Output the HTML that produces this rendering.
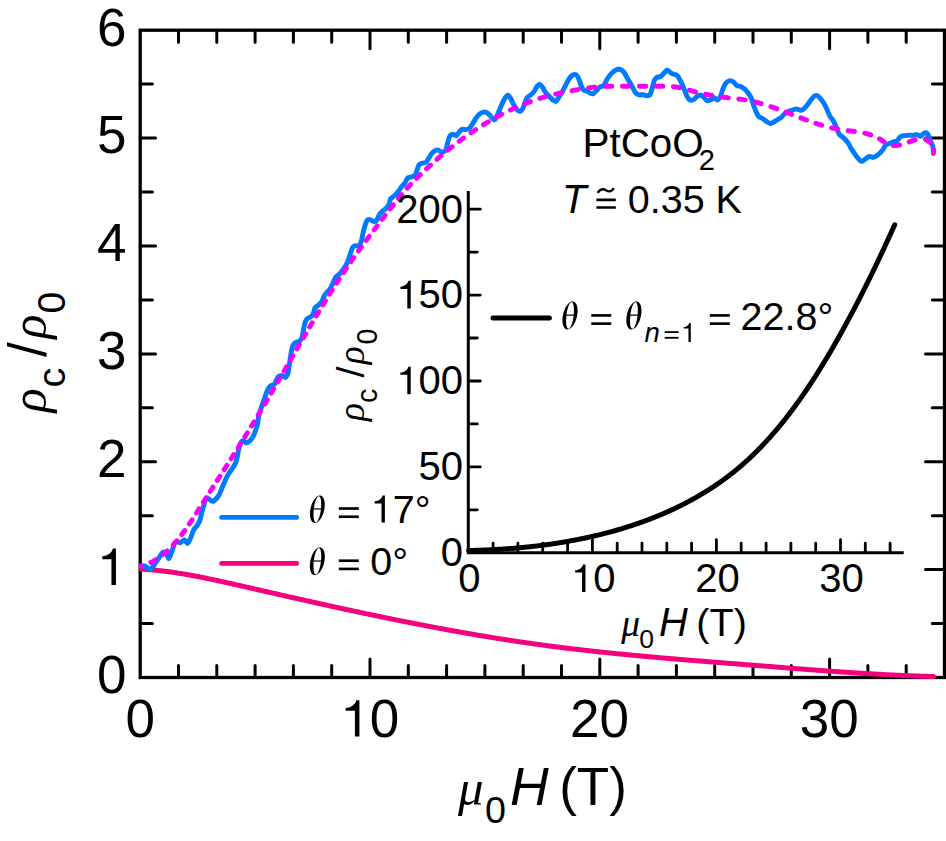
<!DOCTYPE html><html><head><meta charset="utf-8"><style>html,body{margin:0;padding:0;background:#fff;width:946px;height:841px;overflow:hidden}svg{display:block}text{font-family:"Liberation Sans",sans-serif;fill:#000}.s{font-family:"Liberation Serif",serif;font-style:italic}.i{font-style:italic}</style></head><body>
<svg width="946" height="841" viewBox="0 0 946 841">
<rect x="140.2" y="30.2" width="804.3" height="647.3" fill="none" stroke="#000" stroke-width="3.3"/>
<path d="M178.5,677.5v-12.0M178.5,30.2v12.0M216.8,677.5v-12.0M216.8,30.2v12.0M255.1,677.5v-12.0M255.1,30.2v12.0M293.4,677.5v-12.0M293.4,30.2v12.0M331.7,677.5v-12.0M331.7,30.2v12.0M370.0,677.5v-18.6M370.0,30.2v18.6M408.3,677.5v-12.0M408.3,30.2v12.0M446.6,677.5v-12.0M446.6,30.2v12.0M484.9,677.5v-12.0M484.9,30.2v12.0M523.2,677.5v-12.0M523.2,30.2v12.0M561.5,677.5v-12.0M561.5,30.2v12.0M599.8,677.5v-18.6M599.8,30.2v18.6M638.1,677.5v-12.0M638.1,30.2v12.0M676.4,677.5v-12.0M676.4,30.2v12.0M714.7,677.5v-12.0M714.7,30.2v12.0M753.0,677.5v-12.0M753.0,30.2v12.0M791.3,677.5v-12.0M791.3,30.2v12.0M829.6,677.5v-18.6M829.6,30.2v18.6M867.9,677.5v-12.0M867.9,30.2v12.0M906.2,677.5v-12.0M906.2,30.2v12.0M140.2,623.6h12.2M944.5,623.6h-12.2M140.2,569.6h15.4M944.5,569.6h-19.0M140.2,515.7h12.2M944.5,515.7h-12.2M140.2,461.7h15.4M944.5,461.7h-19.0M140.2,407.8h12.2M944.5,407.8h-12.2M140.2,353.9h15.4M944.5,353.9h-19.0M140.2,299.9h12.2M944.5,299.9h-12.2M140.2,246.0h15.4M944.5,246.0h-19.0M140.2,192.0h12.2M944.5,192.0h-12.2M140.2,138.1h15.4M944.5,138.1h-19.0M140.2,84.1h12.2M944.5,84.1h-12.2" stroke="#000" stroke-width="3.0" stroke-linecap="round" fill="none"/>
<path d="M141.14,569.15 142.11,569.20 143.08,569.26 144.06,569.31 145.03,569.37 146.00,569.44 146.98,569.50 147.95,569.57 148.92,569.64 149.90,569.72 150.87,569.80 151.84,569.88 152.82,569.96 153.79,570.05 154.77,570.14 155.74,570.23 156.71,570.33 157.69,570.43 158.66,570.53 159.63,570.63 160.61,570.74 161.58,570.85 162.55,570.96 163.53,571.08 164.50,571.19 165.48,571.31 166.45,571.44 167.42,571.56 168.40,571.69 169.37,571.82 170.35,571.95 171.32,572.09 172.29,572.23 173.27,572.37 174.24,572.51 175.22,572.65 176.19,572.80 177.17,572.95 178.14,573.10 179.11,573.25 180.09,573.41 181.06,573.56 182.04,573.72 183.01,573.88 183.99,574.05 184.96,574.21 185.94,574.38 186.91,574.55 187.89,574.72 188.86,574.89 189.83,575.06 190.81,575.24 191.78,575.42 192.76,575.60 193.73,575.78 194.71,575.96 195.68,576.15 196.66,576.33 197.63,576.52 198.61,576.71 199.58,576.90 200.56,577.09 201.53,577.28 202.51,577.48 203.48,577.67 204.46,577.87 205.44,578.07 206.41,578.27 207.39,578.47 208.36,578.67 209.34,578.87 210.31,579.08 211.29,579.28 212.26,579.49 213.24,579.69 214.21,579.90 215.19,580.11 216.17,580.32 217.14,580.53 218.12,580.74 219.09,580.95 220.07,581.17 221.04,581.38 222.02,581.60 223.00,581.81 223.97,582.03 224.95,582.24 225.92,582.46 226.90,582.68 227.88,582.90 228.85,583.12 229.83,583.33 230.80,583.55 231.78,583.77 232.76,583.99 233.73,584.22 234.71,584.44 235.69,584.66 236.66,584.88 237.64,585.10 238.62,585.32 239.59,585.54 240.57,585.77 241.55,585.99 242.52,586.21 243.50,586.43 244.47,586.65 245.45,586.88 246.43,587.10 247.41,587.32 248.38,587.54 249.36,587.76 250.34,587.99 251.31,588.21 252.29,588.43 253.27,588.65 254.24,588.88 255.22,589.10 256.20,589.32 257.17,589.54 258.15,589.77 259.13,589.99 260.11,590.21 261.08,590.43 262.06,590.65 263.04,590.88 264.02,591.10 264.99,591.32 265.97,591.54 266.95,591.77 267.93,591.99 268.90,592.21 269.88,592.43 270.86,592.65 271.84,592.88 272.81,593.10 273.79,593.32 274.77,593.54 275.75,593.76 276.73,593.99 277.70,594.21 278.68,594.43 279.66,594.65 280.64,594.87 281.61,595.10 282.59,595.32 283.57,595.54 284.55,595.76 285.53,595.98 286.51,596.20 287.48,596.42 288.46,596.64 289.44,596.87 290.42,597.09 291.40,597.31 292.38,597.53 293.35,597.75 294.33,597.97 295.31,598.19 296.29,598.41 297.27,598.63 298.25,598.85 299.23,599.07 300.20,599.29 301.18,599.51 302.16,599.73 303.14,599.95 304.12,600.17 305.10,600.39 306.08,600.61 307.06,600.83 308.04,601.05 309.01,601.26 309.99,601.48 310.97,601.70 311.95,601.92 312.93,602.14 313.91,602.36 314.89,602.57 315.87,602.79 316.85,603.01 317.83,603.23 318.81,603.45 319.79,603.66 320.77,603.88 321.75,604.10 322.73,604.31 323.71,604.53 324.69,604.75 325.66,604.96 326.64,605.18 327.62,605.39 328.60,605.61 329.58,605.83 330.56,606.04 331.54,606.26 332.52,606.47 333.50,606.69 334.48,606.90 335.46,607.11 336.44,607.33 337.42,607.54 338.40,607.76 339.38,607.97 340.37,608.18 341.35,608.40 342.33,608.61 343.31,608.82 344.29,609.03 345.27,609.25 346.25,609.46 347.23,609.67 348.21,609.88 349.19,610.09 350.17,610.30 351.15,610.51 352.13,610.72 353.11,610.93 354.09,611.15 355.07,611.36 356.05,611.56 357.04,611.77 358.02,611.98 359.00,612.19 359.98,612.40 360.96,612.61 361.94,612.82 362.92,613.03 363.90,613.23 364.88,613.44 365.87,613.65 366.85,613.85 367.83,614.06 368.81,614.27 369.79,614.47 370.77,614.68 371.75,614.89 372.74,615.09 373.72,615.30 374.70,615.50 375.68,615.71 376.66,615.91 377.64,616.11 378.63,616.32 379.61,616.52 380.59,616.72 381.57,616.93 382.55,617.13 383.54,617.33 384.52,617.53 385.50,617.74 386.48,617.94 387.46,618.14 388.45,618.34 389.43,618.54 390.41,618.74 391.39,618.94 392.38,619.14 393.36,619.34 394.34,619.54 395.32,619.74 396.31,619.94 397.29,620.13 398.27,620.33 399.25,620.53 400.24,620.73 401.22,620.92 402.20,621.12 403.18,621.32 404.17,621.51 405.15,621.71 406.13,621.90 407.12,622.10 408.10,622.29 409.08,622.49 410.07,622.68 411.05,622.88 412.03,623.07 413.01,623.26 414.00,623.45 414.98,623.65 415.96,623.84 416.95,624.03 417.93,624.22 418.91,624.41 419.90,624.60 420.88,624.79 421.87,624.98 422.85,625.17 423.83,625.36 424.82,625.55 425.80,625.74 426.78,625.93 427.77,626.12 428.75,626.30 429.74,626.49 430.72,626.68 431.70,626.86 432.69,627.05 433.67,627.23 434.66,627.42 435.64,627.60 436.62,627.79 437.61,627.97 438.59,628.16 439.58,628.34 440.56,628.52 441.55,628.71 442.53,628.89 443.51,629.07 444.50,629.25 445.48,629.43 446.47,629.61 447.45,629.79 448.44,629.97 449.42,630.15 450.41,630.33 451.39,630.51 452.38,630.69 453.36,630.86 454.35,631.04 455.33,631.22 456.32,631.40 457.30,631.57 458.29,631.75 459.27,631.92 460.26,632.10 461.24,632.27 462.23,632.45 463.21,632.62 464.20,632.79 465.18,632.97 466.17,633.14 467.16,633.31 468.14,633.48 469.13,633.65 470.11,633.82 471.10,633.99 472.08,634.16 473.07,634.33 474.05,634.50 475.04,634.67 476.03,634.84 477.01,635.00 478.00,635.17 478.98,635.34 479.97,635.50 480.96,635.67 481.94,635.84 482.93,636.00 483.92,636.16 484.90,636.33 485.89,636.49 486.87,636.66 487.86,636.82 488.85,636.98 489.83,637.14 490.82,637.30 491.81,637.46 492.79,637.62 493.78,637.78 494.77,637.94 495.75,638.10 496.74,638.26 497.73,638.42 498.71,638.57 499.70,638.73 500.69,638.89 501.67,639.04 502.66,639.20 503.65,639.35 504.64,639.51 505.62,639.66 506.61,639.81 507.60,639.97 508.58,640.12 509.57,640.27 510.56,640.42 511.55,640.57 512.53,640.72 513.52,640.87 514.51,641.02 515.50,641.17 516.48,641.32 517.47,641.47 518.46,641.62 519.45,641.76 520.44,641.91 521.42,642.05 522.41,642.20 523.40,642.34 524.39,642.49 525.38,642.63 526.36,642.77 527.35,642.92 528.34,643.06 529.33,643.20 530.32,643.34 531.30,643.48 532.29,643.62 533.28,643.76 534.27,643.90 535.26,644.04 536.25,644.17 537.24,644.31 538.22,644.45 539.21,644.58 540.20,644.72 541.19,644.85 542.18,644.99 543.17,645.12 544.16,645.26 545.15,645.39 546.14,645.52 547.12,645.65 548.11,645.78 549.10,645.91 550.09,646.04 551.08,646.17 552.07,646.30 553.06,646.43 554.05,646.56 555.04,646.68 556.03,646.81 557.02,646.94 558.01,647.06 559.00,647.19 559.99,647.31 560.98,647.44 561.97,647.56 562.95,647.68 563.94,647.80 564.93,647.93 565.92,648.05 566.91,648.17 567.90,648.29 568.89,648.41 569.88,648.53 570.87,648.65 571.86,648.77 572.85,648.88 573.84,649.00 574.84,649.12 575.83,649.23 576.82,649.35 577.81,649.47 578.80,649.58 579.79,649.70 580.78,649.81 581.77,649.92 582.76,650.04 583.75,650.15 584.74,650.26 585.73,650.37 586.72,650.48 587.71,650.60 588.70,650.71 589.69,650.82 590.69,650.93 591.68,651.04 592.67,651.14 593.66,651.25 594.65,651.36 595.64,651.47 596.63,651.58 597.62,651.68 598.61,651.79 599.61,651.89 600.60,652.00 601.59,652.11 602.58,652.21 603.57,652.31 604.56,652.42 605.55,652.52 606.55,652.63 607.54,652.73 608.53,652.83 609.52,652.93 610.51,653.03 611.50,653.14 612.50,653.24 613.49,653.34 614.48,653.44 615.47,653.54 616.46,653.64 617.46,653.74 618.45,653.83 619.44,653.93 620.43,654.03 621.43,654.13 622.42,654.23 623.41,654.32 624.40,654.42 625.39,654.52 626.39,654.61 627.38,654.71 628.37,654.80 629.36,654.90 630.36,654.99 631.35,655.09 632.34,655.18 633.34,655.28 634.33,655.37 635.32,655.46 636.31,655.56 637.31,655.65 638.30,655.74 639.29,655.83 640.29,655.93 641.28,656.02 642.27,656.11 643.26,656.20 644.26,656.29 645.25,656.38 646.24,656.47 647.24,656.56 648.23,656.65 649.22,656.74 650.22,656.83 651.21,656.92 652.20,657.01 653.20,657.09 654.19,657.18 655.19,657.27 656.18,657.36 657.17,657.45 658.17,657.53 659.16,657.62 660.15,657.71 661.15,657.79 662.14,657.88 663.13,657.97 664.13,658.05 665.12,658.14 666.12,658.22 667.11,658.31 668.10,658.39 669.10,658.48 670.09,658.56 671.09,658.65 672.08,658.73 673.08,658.81 674.07,658.90 675.06,658.98 676.06,659.07 677.05,659.15 678.05,659.23 679.04,659.32 680.04,659.40 681.03,659.48 682.03,659.56 683.02,659.65 684.02,659.73 685.01,659.81 686.00,659.89 687.00,659.97 687.99,660.06 688.99,660.14 689.98,660.22 690.98,660.30 691.97,660.38 692.97,660.46 693.96,660.54 694.96,660.62 695.95,660.70 696.95,660.78 697.94,660.86 698.94,660.94 699.93,661.02 700.93,661.10 701.93,661.18 702.92,661.26 703.92,661.34 704.91,661.42 705.91,661.50 706.90,661.58 707.90,661.66 708.89,661.74 709.89,661.82 710.88,661.90 711.88,661.98 712.88,662.06 713.87,662.13 714.87,662.21 715.86,662.29 716.86,662.37 717.85,662.45 718.85,662.53 719.85,662.61 720.84,662.69 721.84,662.76 722.83,662.84 723.83,662.92 724.83,663.00 725.82,663.08 726.82,663.15 727.82,663.23 728.81,663.31 729.81,663.39 730.80,663.47 731.80,663.55 732.80,663.62 733.79,663.70 734.79,663.78 735.79,663.86 736.78,663.94 737.78,664.01 738.78,664.09 739.77,664.17 740.77,664.25 741.77,664.33 742.76,664.40 743.76,664.48 744.76,664.56 745.75,664.64 746.75,664.72 747.75,664.80 748.74,664.87 749.74,664.95 750.74,665.03 751.73,665.11 752.73,665.19 753.73,665.27 754.73,665.34 755.72,665.42 756.72,665.50 757.72,665.58 758.72,665.66 759.71,665.74 760.71,665.82 761.71,665.90 762.70,665.97 763.70,666.05 764.70,666.13 765.70,666.21 766.69,666.29 767.69,666.37 768.69,666.45 769.69,666.53 770.68,666.61 771.68,666.69 772.68,666.76 773.68,666.84 774.68,666.92 775.67,667.00 776.67,667.08 777.67,667.16 778.67,667.24 779.66,667.32 780.66,667.39 781.66,667.47 782.66,667.55 783.66,667.63 784.65,667.71 785.65,667.79 786.65,667.87 787.65,667.94 788.65,668.02 789.65,668.10 790.64,668.18 791.64,668.26 792.64,668.33 793.64,668.41 794.64,668.49 795.64,668.57 796.63,668.65 797.63,668.72 798.63,668.80 799.63,668.88 800.63,668.95 801.63,669.03 802.63,669.11 803.62,669.19 804.62,669.26 805.62,669.34 806.62,669.41 807.62,669.49 808.62,669.57 809.62,669.64 810.62,669.72 811.61,669.79 812.61,669.87 813.61,669.94 814.61,670.02 815.61,670.09 816.61,670.17 817.61,670.24 818.61,670.32 819.61,670.39 820.61,670.46 821.60,670.54 822.60,670.61 823.60,670.68 824.60,670.76 825.60,670.83 826.60,670.90 827.60,670.97 828.60,671.05 829.60,671.12 830.60,671.19 831.60,671.26 832.60,671.33 833.60,671.40 834.60,671.47 835.60,671.54 836.60,671.61 837.59,671.68 838.59,671.75 839.59,671.82 840.59,671.89 841.59,671.96 842.59,672.03 843.59,672.10 844.59,672.16 845.59,672.23 846.59,672.30 847.59,672.37 848.59,672.43 849.59,672.50 850.59,672.56 851.59,672.63 852.59,672.69 853.59,672.76 854.59,672.82 855.59,672.89 856.59,672.95 857.59,673.02 858.59,673.08 859.59,673.14 860.59,673.20 861.59,673.27 862.59,673.33 863.59,673.39 864.59,673.45 865.60,673.51 866.60,673.57 867.60,673.63 868.60,673.69 869.60,673.75 870.60,673.81 871.60,673.87 872.60,673.92 873.60,673.98 874.60,674.04 875.60,674.10 876.60,674.15 877.60,674.21 878.60,674.26 879.60,674.32 880.60,674.37 881.60,674.43 882.61,674.48 883.61,674.53 884.61,674.59 885.61,674.64 886.61,674.69 887.61,674.74 888.61,674.79 889.61,674.84 890.61,674.89 891.61,674.94 892.61,674.99 893.62,675.04 894.62,675.09 895.62,675.13 896.62,675.18 897.62,675.23 898.62,675.27 899.62,675.32 900.62,675.36 901.63,675.41 902.63,675.45 903.63,675.49 904.63,675.54 905.63,675.58 906.63,675.62 907.63,675.66 908.63,675.70 909.64,675.74 910.64,675.78 911.64,675.82 912.64,675.86 913.64,675.90 914.64,675.93 915.65,675.97 916.65,676.00 917.65,676.04 918.65,676.07 919.65,676.11 920.65,676.14 921.66,676.18 922.66,676.21 923.66,676.24 924.66,676.27 925.66,676.30 926.66,676.33 927.67,676.36 928.67,676.39 929.67,676.42 930.67,676.44 931.67,676.47 932.68,676.50 933.68,676.52" fill="none" stroke="#F6007E" stroke-width="5.00" stroke-linejoin="round" stroke-linecap="round"/>
<path d="M141.0,565.7 C141.6,565.8 144.0,565.9 145.3,566.4 C146.6,566.9 149.2,569.2 150.3,569.2 C151.4,569.2 152.1,567.7 153.1,566.4 C154.1,565.1 156.0,562.0 157.4,560.0 C158.8,558.0 161.8,552.9 163.1,552.1 C164.4,551.3 165.9,553.3 166.7,554.2 C167.5,555.1 168.1,558.8 168.8,558.5 C169.5,558.2 170.9,554.2 171.7,552.1 C172.5,550.0 173.7,545.0 174.5,543.5 C175.3,542.0 176.6,541.5 177.4,541.4 C178.2,541.3 179.2,543.0 180.2,542.8 C181.2,542.6 183.5,539.9 184.5,540.0 C185.5,540.1 186.6,543.6 187.4,543.5 C188.2,543.4 189.3,540.9 190.2,539.0 C191.1,537.1 192.6,531.9 193.6,530.0 C194.6,528.1 196.2,527.0 197.1,525.6 C198.0,524.2 199.3,521.9 200.0,519.9 C200.7,517.9 201.5,513.7 202.1,511.4 C202.7,509.1 203.7,505.4 204.3,503.5 C204.9,501.6 205.7,498.4 206.4,497.8 C207.1,497.2 208.4,498.7 209.3,499.2 C210.2,499.7 211.8,501.5 212.8,501.4 C213.8,501.3 215.5,499.5 216.4,498.5 C217.3,497.5 218.6,495.6 219.3,494.3 C220.0,493.0 220.7,490.9 221.4,489.3 C222.1,487.7 223.5,484.4 224.2,482.8 C224.9,481.2 225.7,479.2 226.4,477.8 C227.1,476.4 228.4,474.2 229.3,472.8 C230.2,471.4 231.9,469.2 232.8,467.8 C233.7,466.4 235.0,464.5 235.7,462.8 C236.4,461.1 237.1,457.7 237.5,455.7 C237.9,453.7 238.4,450.4 238.9,448.5 C239.4,446.6 240.5,443.2 241.1,442.1 C241.7,441.0 242.8,440.6 243.5,440.7 C244.2,440.8 245.5,442.8 246.4,442.8 C247.3,442.8 249.0,441.7 250.0,440.7 C251.0,439.7 252.7,437.3 253.5,435.7 C254.3,434.1 255.4,431.1 256.0,429.3 C256.6,427.5 257.4,424.7 257.8,422.9 C258.2,421.1 258.2,418.3 258.6,416.4 C259.0,414.5 260.1,411.2 260.7,409.2 C261.3,407.2 262.5,404.1 263.2,402.1 C263.9,400.1 265.1,396.8 265.7,395.0 C266.3,393.2 267.1,390.6 267.8,389.3 C268.5,388.0 269.8,386.4 270.7,385.7 C271.6,385.0 273.5,385.1 274.3,384.3 C275.1,383.5 275.8,381.1 276.4,380.0 C277.0,378.9 277.7,377.0 278.5,376.4 C279.3,375.8 281.1,375.5 282.1,375.7 C283.1,375.9 284.5,377.8 285.3,377.5 C286.1,377.2 287.3,374.9 287.8,373.6 C288.3,372.3 288.6,369.8 288.9,367.9 C289.2,366.0 289.6,362.2 290.0,359.9 C290.4,357.6 291.0,353.5 291.4,351.4 C291.8,349.3 292.5,346.3 293.2,345.0 C293.9,343.7 295.4,342.7 296.4,342.1 C297.4,341.5 299.2,341.4 300.0,340.7 C300.8,340.0 301.7,338.4 302.1,337.1 C302.5,335.8 302.8,333.2 303.2,331.4 C303.6,329.6 304.2,326.0 304.6,324.3 C305.0,322.6 305.7,320.6 306.4,319.6 C307.1,318.6 308.6,318.0 309.3,317.5 C310.0,317.0 311.1,316.7 311.7,316.1 C312.3,315.5 313.0,314.1 313.5,312.9 C314.0,311.7 314.4,308.8 315.0,307.8 C315.6,306.8 316.9,306.5 317.8,305.7 C318.7,304.9 320.5,303.5 321.4,302.1 C322.3,300.7 323.5,297.1 324.3,295.7 C325.1,294.3 326.3,293.0 327.1,292.1 C327.9,291.2 329.2,290.4 330.0,289.2 C330.8,288.0 332.0,285.2 332.8,283.5 C333.6,281.8 334.8,278.4 335.7,277.1 C336.6,275.8 338.3,275.3 339.3,274.3 C340.3,273.3 341.8,271.4 342.8,270.0 C343.8,268.6 345.6,265.8 346.4,264.3 C347.2,262.8 347.9,260.9 348.5,259.3 C349.1,257.7 350.1,254.5 350.7,252.8 C351.3,251.1 352.1,248.1 352.8,247.1 C353.5,246.1 354.8,245.9 355.7,245.7 C356.6,245.5 358.5,246.4 359.3,245.7 C360.1,245.0 360.9,242.3 361.4,240.7 C361.9,239.1 362.4,236.1 362.8,234.2 C363.2,232.3 364.0,229.0 364.6,227.1 C365.2,225.2 366.0,221.8 366.8,220.7 C367.6,219.6 369.1,219.5 370.0,219.6 C370.9,219.7 372.6,221.2 373.5,221.4 C374.4,221.6 375.6,221.6 376.4,220.7 C377.2,219.8 378.4,216.3 379.2,215.0 C380.0,213.7 381.2,212.3 382.1,211.4 C383.0,210.5 384.8,209.7 385.7,208.8 C386.6,207.9 387.8,206.6 388.5,205.2 C389.2,203.8 389.9,200.1 390.7,198.8 C391.5,197.5 393.3,196.6 394.3,195.7 C395.3,194.8 396.8,193.3 397.8,192.1 C398.8,190.9 400.4,188.4 401.4,187.1 C402.4,185.8 404.1,184.1 405.0,182.8 C405.9,181.5 406.9,178.6 407.8,177.8 C408.7,177.0 410.4,177.2 411.4,176.8 C412.4,176.5 414.2,176.3 415.0,175.3 C415.8,174.3 416.6,171.4 417.1,170.0 C417.6,168.6 418.2,166.0 418.9,165.0 C419.6,164.0 421.1,163.5 422.1,163.2 C423.1,162.8 424.8,163.1 425.7,162.5 C426.6,161.9 427.7,159.8 428.5,158.6 C429.3,157.4 430.4,155.3 431.2,154.2 C432.0,153.1 433.6,151.6 434.5,151.0 C435.4,150.4 436.7,149.7 437.8,149.9 C438.9,150.1 441.0,152.1 442.1,152.1 C443.2,152.1 444.9,151.3 445.7,149.9 C446.5,148.5 447.2,144.1 447.8,142.1 C448.4,140.1 449.3,136.8 450.0,135.7 C450.7,134.6 451.9,134.3 452.8,134.3 C453.7,134.3 455.5,136.0 456.4,135.7 C457.3,135.4 458.5,133.0 459.3,132.1 C460.1,131.2 461.2,129.7 462.1,129.3 C463.0,129.0 464.7,129.7 465.7,129.6 C466.7,129.5 468.2,129.4 469.2,128.5 C470.2,127.6 471.9,124.9 472.8,123.5 C473.7,122.1 474.8,119.9 475.7,118.6 C476.6,117.3 478.1,115.2 479.2,114.3 C480.3,113.4 482.4,112.3 483.5,112.1 C484.6,111.9 486.2,112.3 487.1,112.8 C488.0,113.3 489.0,114.5 490.0,115.5 C491.0,116.5 493.3,119.9 494.3,119.9 C495.3,119.9 496.2,117.5 497.1,115.7 C498.0,113.9 499.7,109.4 500.7,107.1 C501.7,104.8 503.3,101.0 504.3,99.3 C505.3,97.6 506.9,95.4 507.8,95.3 C508.7,95.2 509.9,97.2 510.7,98.5 C511.5,99.8 512.7,102.8 513.5,104.3 C514.3,105.8 515.5,108.2 516.4,109.2 C517.3,110.2 519.1,111.5 520.0,111.4 C520.9,111.3 522.1,109.7 522.8,108.5 C523.5,107.3 524.4,104.3 525.0,102.8 C525.6,101.3 526.3,98.9 527.1,97.8 C527.9,96.7 529.7,95.9 530.7,95.0 C531.7,94.1 533.3,92.6 534.2,91.4 C535.1,90.2 536.3,87.4 537.1,86.4 C537.9,85.4 538.8,84.1 539.6,84.3 C540.4,84.5 542.0,86.6 542.9,87.8 C543.8,89.0 544.8,91.6 545.7,92.8 C546.6,94.0 548.3,95.4 549.3,96.4 C550.3,97.4 551.9,99.3 552.8,100.0 C553.7,100.7 554.9,101.7 555.7,101.4 C556.5,101.1 557.6,99.1 558.5,97.8 C559.4,96.5 561.1,93.9 562.1,92.1 C563.1,90.3 564.7,86.9 565.7,85.0 C566.7,83.1 568.3,79.9 569.3,78.5 C570.3,77.1 571.8,75.5 572.8,75.0 C573.8,74.5 575.5,74.4 576.4,75.0 C577.3,75.6 578.3,77.9 578.9,79.3 C579.5,80.7 580.4,83.5 581.0,85.0 C581.6,86.5 582.6,89.1 583.5,90.0 C584.4,90.9 586.1,90.9 587.1,91.4 C588.1,91.9 589.8,93.2 590.7,93.5 C591.6,93.8 592.6,94.0 593.5,93.5 C594.4,93.0 596.2,90.9 597.1,90.0 C598.0,89.1 599.1,87.4 600.0,86.8 C600.9,86.2 602.6,86.8 603.6,85.7 C604.6,84.7 606.1,80.9 607.1,79.3 C608.1,77.7 609.7,75.5 610.7,74.3 C611.7,73.1 613.3,71.7 614.3,71.0 C615.3,70.3 616.8,69.4 617.8,69.3 C618.8,69.2 620.5,69.5 621.4,70.0 C622.3,70.5 623.5,71.7 624.3,72.8 C625.1,73.9 626.3,76.4 627.1,77.8 C627.9,79.2 629.2,81.4 630.0,82.8 C630.8,84.2 632.0,86.4 632.8,87.8 C633.6,89.2 634.8,91.8 635.7,92.8 C636.6,93.8 638.2,94.6 639.2,94.9 C640.2,95.2 641.8,94.5 642.8,94.6 C643.8,94.7 645.4,95.7 646.4,95.7 C647.4,95.7 649.1,95.9 649.9,94.9 C650.7,93.9 651.5,90.5 652.1,88.5 C652.7,86.5 653.5,82.3 654.2,80.7 C654.9,79.1 656.3,77.6 657.1,77.1 C657.9,76.6 659.1,77.3 660.0,76.8 C660.9,76.3 662.6,74.4 663.6,73.5 C664.6,72.6 666.1,70.4 667.1,70.3 C668.1,70.2 669.7,72.2 670.7,72.8 C671.7,73.4 673.3,73.9 674.3,74.3 C675.3,74.7 676.7,74.9 677.5,75.7 C678.3,76.5 679.3,78.6 680.0,80.0 C680.7,81.4 682.1,84.1 682.8,85.7 C683.5,87.3 684.4,89.9 685.0,91.4 C685.6,92.9 686.4,95.2 687.1,96.4 C687.8,97.6 689.1,99.5 690.0,99.9 C690.9,100.3 692.5,100.1 693.5,99.6 C694.5,99.1 696.1,97.0 697.1,96.4 C698.1,95.8 699.8,94.9 700.7,95.0 C701.6,95.1 702.6,96.3 703.5,97.1 C704.4,97.9 706.1,100.3 707.1,100.7 C708.1,101.1 709.7,100.3 710.7,99.9 C711.7,99.5 713.2,97.8 714.2,97.8 C715.2,97.8 716.6,100.3 717.5,100.0 C718.4,99.7 720.0,97.2 720.7,95.7 C721.4,94.2 722.1,91.0 722.8,89.3 C723.5,87.5 724.7,84.4 725.7,83.2 C726.7,82.0 728.9,80.9 730.0,80.7 C731.1,80.5 732.5,81.4 733.5,82.1 C734.5,82.8 736.1,85.1 737.1,85.7 C738.1,86.3 739.6,85.9 740.7,86.4 C741.8,86.9 743.9,88.3 745.0,89.3 C746.1,90.3 747.6,92.2 748.5,93.5 C749.4,94.8 750.7,96.9 751.4,98.5 C752.1,100.1 752.9,103.3 753.5,105.0 C754.1,106.7 755.0,109.1 755.7,110.7 C756.4,112.3 757.6,115.4 758.5,116.4 C759.4,117.5 761.0,117.5 762.1,118.2 C763.2,118.9 765.3,120.7 766.4,121.4 C767.5,122.1 769.3,123.4 770.3,123.5 C771.3,123.6 772.6,122.6 773.6,122.1 C774.6,121.6 776.1,120.6 777.1,120.0 C778.1,119.4 779.7,118.6 780.7,117.8 C781.7,117.0 783.2,115.1 784.3,114.2 C785.4,113.3 787.3,112.0 788.5,111.4 C789.7,110.8 791.7,110.3 792.8,110.0 C793.9,109.7 795.3,108.9 796.4,108.9 C797.5,108.9 799.6,110.4 800.7,110.3 C801.8,110.2 803.2,109.3 804.2,108.5 C805.2,107.7 806.8,105.6 807.8,104.3 C808.8,103.0 810.4,100.5 811.4,99.3 C812.4,98.1 813.9,96.1 814.9,95.7 C815.9,95.3 817.5,95.7 818.5,96.4 C819.5,97.1 821.1,99.3 822.1,100.7 C823.1,102.1 824.7,104.7 825.6,106.4 C826.5,108.1 827.6,111.1 828.2,112.5 C828.8,113.9 829.4,115.4 830.0,116.4 C830.6,117.5 832.1,118.9 832.8,120.0 C833.5,121.1 834.4,123.0 835.0,124.3 C835.6,125.6 836.5,127.9 837.1,129.3 C837.7,130.7 838.5,133.2 839.3,134.3 C840.1,135.4 841.9,136.3 842.8,137.1 C843.7,137.9 844.9,139.1 845.7,140.0 C846.5,140.9 847.8,142.4 848.5,143.5 C849.2,144.6 850.0,146.6 850.7,147.8 C851.4,149.0 852.6,150.8 853.5,152.1 C854.4,153.4 856.0,155.8 857.1,157.1 C858.2,158.4 860.3,161.1 861.4,161.4 C862.5,161.7 863.9,159.9 865.0,159.2 C866.1,158.5 868.0,156.7 869.2,156.4 C870.4,156.1 872.3,157.6 873.5,157.4 C874.7,157.2 876.8,155.6 877.8,154.9 C878.8,154.2 879.8,153.2 880.5,152.5 C881.2,151.8 882.2,150.6 882.9,149.6 C883.6,148.6 884.6,146.1 885.5,145.2 C886.4,144.3 888.3,143.9 889.3,143.5 C890.3,143.1 891.7,142.5 892.8,142.1 C893.9,141.7 896.1,141.4 897.1,140.7 C898.1,140.0 899.1,137.8 900.0,137.1 C900.9,136.4 902.3,136.0 903.5,135.7 C904.7,135.4 907.1,135.4 908.5,135.3 C909.9,135.2 912.3,135.4 913.5,135.3 C914.7,135.2 916.1,134.4 917.1,134.6 C918.1,134.8 919.8,136.6 920.7,136.4 C921.6,136.2 922.7,134.0 923.5,133.5 C924.3,133.0 925.7,132.5 926.4,132.8 C927.1,133.1 927.9,134.5 928.5,135.7 C929.1,136.9 930.1,139.9 930.7,141.4 C931.3,142.9 932.4,144.9 932.8,146.4 C933.2,147.9 933.4,151.3 933.5,152.1" fill="none" stroke="#007AFF" stroke-width="4.90" stroke-linejoin="round" stroke-linecap="round"/>
<path d="M141.40,566.01 141.50,565.99 141.59,565.96M150.82,562.50 151.27,562.28 151.70,562.06 152.14,561.84 152.57,561.61 153.00,561.37 153.42,561.14 153.85,560.90 154.26,560.66 154.68,560.42 155.09,560.17 155.50,559.92 155.91,559.67M163.21,554.40 163.56,554.11 163.90,553.82 164.25,553.52 164.59,553.23 164.93,552.94 165.27,552.64 165.61,552.34 165.94,552.04 166.28,551.75 166.61,551.45 166.94,551.14 167.26,550.84M173.24,544.80 173.53,544.48 173.82,544.16 174.11,543.84 174.40,543.52 174.69,543.20 174.97,542.88 175.26,542.55 175.54,542.23 175.82,541.91 176.10,541.58 176.38,541.26 176.66,540.93M181.80,534.52 182.05,534.19 182.31,533.85 182.56,533.52 182.81,533.18 183.06,532.85 183.31,532.51 183.56,532.17 183.81,531.84 184.05,531.50 184.30,531.16 184.55,530.82 184.79,530.48M189.38,523.87 189.61,523.53 189.84,523.19 190.07,522.84 190.30,522.50 190.53,522.16 190.76,521.81 190.98,521.47 191.21,521.12 191.44,520.78 191.66,520.44 191.89,520.09 192.12,519.75M196.43,513.04 196.65,512.70 196.87,512.35 197.09,512.00 197.31,511.66 197.52,511.31 197.74,510.96 197.96,510.62 198.18,510.27 198.40,509.92 198.62,509.58 198.84,509.23 199.06,508.88M203.33,502.17 203.55,501.82 203.77,501.48 203.99,501.13 204.21,500.78 204.43,500.44 204.65,500.09 204.87,499.75 205.09,499.40 205.32,499.05 205.54,498.71 205.76,498.36 205.98,498.01M210.27,491.31 210.49,490.96 210.72,490.61 210.94,490.27 211.16,489.92 211.38,489.58 211.60,489.23 211.82,488.89 212.05,488.54 212.27,488.19 212.49,487.85 212.71,487.50 212.93,487.16M217.24,480.45 217.46,480.11 217.68,479.76 217.90,479.41 218.13,479.07 218.35,478.72 218.57,478.38 218.79,478.03 219.02,477.68 219.24,477.34 219.46,476.99 219.68,476.65 219.90,476.30M224.20,469.60 224.42,469.25 224.65,468.90 224.87,468.56 225.09,468.21 225.31,467.87 225.53,467.52 225.75,467.17 225.97,466.83 226.20,466.48 226.42,466.14 226.64,465.79 226.86,465.44M231.14,458.73 231.36,458.39 231.58,458.04 231.80,457.69 232.02,457.35 232.24,457.00 232.46,456.65 232.68,456.31 232.90,455.96 233.12,455.61 233.34,455.27 233.56,454.92 233.78,454.57M238.02,447.85 238.24,447.50 238.46,447.16 238.68,446.81 238.90,446.46 239.11,446.12 239.33,445.77 239.55,445.42 239.77,445.07 239.99,444.73 240.20,444.38 240.42,444.03 240.64,443.69M244.83,436.95 245.05,436.60 245.26,436.25 245.48,435.90 245.69,435.56 245.91,435.21 246.12,434.86 246.34,434.51 246.55,434.16 246.77,433.82 246.98,433.47 247.20,433.12 247.41,432.77M251.55,426.02 251.77,425.67 251.98,425.32 252.19,424.97 252.40,424.62 252.62,424.27 252.83,423.92 253.04,423.58 253.25,423.23 253.46,422.88 253.68,422.53 253.89,422.18 254.10,421.83M258.19,415.06 258.40,414.71 258.61,414.36 258.83,414.01 259.04,413.66 259.25,413.32 259.46,412.97 259.67,412.62 259.88,412.27 260.09,411.92 260.29,411.57 260.50,411.22 260.71,410.87M264.76,404.09 264.97,403.74 265.18,403.39 265.39,403.04 265.60,402.69 265.80,402.34 266.01,401.99 266.22,401.64 266.43,401.29 266.64,400.94 266.84,400.59 267.05,400.24 267.26,399.89M271.27,393.09 271.48,392.74 271.68,392.39 271.89,392.04 272.09,391.69 272.30,391.34 272.51,390.99 272.71,390.64 272.92,390.29 273.12,389.94 273.33,389.59 273.54,389.24 273.74,388.88M277.72,382.08 277.92,381.73 278.13,381.38 278.33,381.03 278.54,380.68 278.74,380.33 278.95,379.98 279.15,379.63 279.36,379.27 279.56,378.92 279.76,378.57 279.97,378.22 280.17,377.87M284.12,371.06 284.33,370.71 284.53,370.36 284.73,370.00 284.94,369.65 285.14,369.30 285.34,368.95 285.55,368.60 285.75,368.25 285.95,367.90 286.16,367.54 286.36,367.19 286.56,366.84M290.50,360.03 290.70,359.68 290.90,359.32 291.11,358.97 291.31,358.62 291.51,358.27 291.71,357.92 291.92,357.57 292.12,357.21 292.32,356.86 292.53,356.51 292.73,356.16 292.93,355.81M296.87,348.99 297.07,348.64 297.27,348.29 297.48,347.94 297.68,347.59 297.88,347.24 298.09,346.89 298.29,346.53 298.49,346.18 298.70,345.83 298.90,345.48 299.10,345.13 299.31,344.78M303.26,337.97 303.47,337.62 303.67,337.27 303.87,336.91 304.08,336.56 304.28,336.21 304.49,335.86 304.69,335.51 304.90,335.16 305.10,334.81 305.31,334.46 305.51,334.11 305.72,333.76M309.71,326.96 309.91,326.61 310.12,326.26 310.33,325.90 310.53,325.55 310.74,325.20 310.95,324.85 311.15,324.50 311.36,324.15 311.57,323.80 311.77,323.45 311.98,323.10 312.19,322.75M316.23,315.97 316.44,315.62 316.65,315.27 316.86,314.92 317.07,314.57 317.28,314.22 317.49,313.87 317.70,313.52 317.91,313.17 318.12,312.82 318.33,312.47 318.54,312.12 318.75,311.77M322.85,305.01 323.07,304.66 323.28,304.31 323.49,303.96 323.71,303.61 323.92,303.27 324.14,302.92 324.35,302.57 324.56,302.22 324.78,301.87 324.99,301.52 325.21,301.18 325.42,300.83M329.61,294.09 329.83,293.74 330.05,293.39 330.27,293.05 330.49,292.70 330.70,292.35 330.92,292.01 331.14,291.66 331.36,291.31 331.58,290.97 331.80,290.62 332.02,290.27 332.24,289.93M336.53,283.22 336.76,282.87 336.98,282.53 337.20,282.18 337.43,281.84 337.65,281.49 337.88,281.15 338.10,280.80 338.32,280.46 338.55,280.11 338.77,279.77 339.00,279.42 339.23,279.08M343.64,272.41 343.87,272.07 344.10,271.72 344.33,271.38 344.56,271.04 344.79,270.69 345.02,270.35 345.25,270.01 345.49,269.67 345.72,269.32 345.95,268.98 346.18,268.64 346.41,268.29M350.97,261.67 351.20,261.33 351.44,260.99 351.68,260.65 351.92,260.31 352.16,259.97 352.39,259.63 352.63,259.29 352.87,258.95 353.11,258.61 353.35,258.27 353.59,257.93 353.83,257.59M358.52,251.01 358.76,250.67 359.01,250.33 359.25,250.00 359.50,249.66 359.74,249.32 359.99,248.98 360.23,248.64 360.48,248.30 360.72,247.97 360.97,247.63 361.21,247.29 361.46,246.95M366.26,240.42 366.51,240.08 366.76,239.74 367.01,239.41 367.26,239.07 367.51,238.73 367.76,238.40 368.01,238.06 368.26,237.73 368.51,237.39 368.76,237.05 369.01,236.72 369.26,236.38M374.15,229.88 374.41,229.54 374.66,229.21 374.92,228.87 375.17,228.54 375.42,228.20 375.68,227.87 375.93,227.53 376.19,227.20 376.44,226.86 376.69,226.53 376.95,226.19 377.20,225.86M382.16,219.38 382.42,219.04 382.67,218.71 382.93,218.38 383.19,218.04 383.44,217.71 383.70,217.38 383.96,217.04 384.21,216.71 384.47,216.37 384.73,216.04 384.98,215.71 385.24,215.37M390.24,208.91 390.49,208.57 390.75,208.24 391.01,207.91 391.27,207.57 391.53,207.24 391.79,206.91 392.05,206.58 392.30,206.24 392.56,205.91 392.82,205.58 393.08,205.24 393.34,204.91M398.45,198.49 398.71,198.16 398.98,197.83 399.25,197.50 399.52,197.17 399.79,196.84 400.06,196.51 400.33,196.18 400.60,195.86 400.87,195.53 401.15,195.20 401.42,194.87 401.69,194.55M407.15,188.27 407.44,187.95 407.73,187.63 408.02,187.31 408.31,186.99 408.61,186.67 408.90,186.35 409.19,186.03 409.49,185.71 409.78,185.40 410.08,185.08 410.38,184.76 410.67,184.44M416.57,178.36 416.88,178.05 417.19,177.74 417.51,177.43 417.82,177.12 418.13,176.81 418.44,176.50 418.76,176.19 419.07,175.88 419.39,175.58 419.70,175.27 420.02,174.96 420.33,174.65M426.54,168.73 426.87,168.42 427.19,168.12 427.52,167.82 427.85,167.51 428.17,167.21 428.50,166.91 428.83,166.61 429.15,166.30 429.48,166.00 429.81,165.70 430.14,165.40 430.47,165.10M436.94,159.31 437.28,159.02 437.62,158.72 437.96,158.42 438.30,158.13 438.64,157.83 438.98,157.54 439.32,157.25 439.66,156.95 440.00,156.66 440.35,156.36 440.69,156.07 441.03,155.78M447.79,150.15 448.15,149.87 448.50,149.58 448.86,149.29 449.21,149.01 449.57,148.72 449.92,148.43 450.28,148.15 450.64,147.86 451.00,147.58 451.35,147.30 451.71,147.01 452.07,146.73M459.14,141.30 459.51,141.02 459.89,140.74 460.26,140.47 460.63,140.19 461.00,139.92 461.37,139.64 461.75,139.37 462.12,139.09 462.50,138.82 462.87,138.54 463.25,138.27 463.63,138.00M471.04,132.79 471.43,132.53 471.81,132.27 472.20,132.00 472.59,131.74 472.98,131.48 473.38,131.21 473.77,130.95 474.16,130.69 474.55,130.43 474.95,130.17 475.34,129.91 475.74,129.65M483.51,124.71 483.92,124.46 484.33,124.21 484.74,123.96 485.15,123.71 485.56,123.47 485.97,123.22 486.38,122.97 486.79,122.73 487.20,122.48 487.61,122.24 488.03,121.99 488.44,121.75M496.60,117.12 497.03,116.89 497.46,116.66 497.89,116.42 498.32,116.19 498.75,115.96 499.18,115.73 499.61,115.50 500.04,115.28 500.47,115.05 500.91,114.82 501.34,114.59 501.78,114.37M510.34,110.12 510.79,109.90 511.24,109.69 511.69,109.48 512.14,109.27 512.59,109.06 513.04,108.85 513.50,108.64 513.95,108.44 514.40,108.23 514.86,108.02 515.31,107.82 515.77,107.62M524.76,103.82 525.23,103.63 525.70,103.44 526.17,103.26 526.65,103.07 527.12,102.89 527.59,102.71 528.07,102.52 528.55,102.34 529.02,102.16 529.50,101.98 529.98,101.80 530.46,101.63M539.88,98.38 540.37,98.23 540.86,98.07 541.36,97.92 541.85,97.76 542.35,97.61 542.85,97.46 543.34,97.31 543.84,97.16 544.34,97.01 544.84,96.86 545.34,96.72 545.84,96.57M555.68,94.01 556.19,93.89 556.70,93.77 557.22,93.65 557.73,93.53 558.25,93.41 558.76,93.30 559.28,93.18 559.80,93.07 560.31,92.96 560.83,92.84 561.35,92.73 561.87,92.62M571.98,90.64 572.50,90.55 573.03,90.45 573.55,90.36 574.08,90.26 574.60,90.17 575.13,90.08 575.65,89.98 576.18,89.89 576.70,89.80 577.23,89.71 577.75,89.62 578.28,89.53M588.52,87.89 589.05,87.81 589.58,87.74 590.11,87.67 590.64,87.60 591.18,87.53 591.71,87.46 592.24,87.40 592.78,87.34 593.31,87.27 593.85,87.21 594.38,87.16 594.92,87.10M605.36,86.38 605.90,86.36 606.44,86.34 606.99,86.32 607.53,86.30 608.07,86.29 608.61,86.27 609.15,86.26 609.69,86.25 610.23,86.24 610.77,86.23 611.32,86.22 611.86,86.21M622.36,86.19 622.90,86.20 623.44,86.20 623.98,86.21 624.52,86.21 625.07,86.21 625.61,86.22 626.15,86.22 626.69,86.22 627.23,86.23 627.77,86.23 628.32,86.23 628.86,86.24M639.36,86.24 639.90,86.24 640.44,86.23 640.98,86.23 641.52,86.23 642.07,86.23 642.61,86.22 643.15,86.22 643.69,86.22 644.23,86.22 644.77,86.21 645.31,86.21 645.86,86.21M656.36,86.18 656.90,86.18 657.44,86.18 657.98,86.18 658.52,86.18 659.06,86.18 659.61,86.18 660.15,86.19 660.69,86.19 661.23,86.19 661.77,86.20 662.31,86.20 662.86,86.20M673.33,86.64 673.86,86.70 674.39,86.77 674.93,86.84 675.45,86.92 675.98,87.01 676.51,87.10 677.03,87.19 677.56,87.29 678.08,87.39 678.60,87.50 679.12,87.60 679.64,87.72M689.48,90.26 689.99,90.40 690.49,90.54 691.00,90.68 691.50,90.81 692.01,90.95 692.51,91.09 693.02,91.22 693.53,91.36 694.03,91.49 694.54,91.62 695.05,91.75 695.56,91.88M705.53,94.18 706.05,94.29 706.57,94.39 707.09,94.50 707.61,94.60 708.13,94.71 708.65,94.81 709.17,94.91 709.70,95.01 710.22,95.11 710.74,95.21 711.27,95.30 711.79,95.40M722.03,97.02 722.56,97.09 723.10,97.16 723.63,97.23 724.16,97.30 724.69,97.37 725.23,97.43 725.76,97.50 726.30,97.56 726.83,97.62 727.36,97.69 727.90,97.75 728.43,97.81M738.80,98.97 739.33,99.03 739.87,99.10 740.40,99.17 740.93,99.25 741.46,99.32 741.99,99.40 742.52,99.48 743.05,99.56 743.58,99.64 744.11,99.73 744.63,99.81 745.16,99.90M755.20,102.04 755.72,102.16 756.22,102.29 756.73,102.42 757.24,102.56 757.75,102.69 758.25,102.82 758.76,102.96 759.26,103.10 759.77,103.24 760.27,103.38 760.77,103.52 761.27,103.66M770.86,106.66 771.35,106.82 771.84,106.99 772.32,107.15 772.81,107.32 773.30,107.49 773.78,107.66 774.27,107.83 774.75,108.00 775.23,108.17 775.72,108.34 776.20,108.51 776.68,108.68M785.95,112.14 786.42,112.32 786.90,112.50 787.37,112.68 787.85,112.87 788.32,113.05 788.80,113.23 789.27,113.42 789.75,113.60 790.22,113.78 790.69,113.97 791.17,114.15 791.64,114.34M800.83,117.89 801.30,118.08 801.78,118.26 802.25,118.44 802.73,118.62 803.21,118.80 803.68,118.98 804.16,119.16 804.64,119.34 805.12,119.52 805.59,119.70 806.07,119.87 806.55,120.05M815.92,123.36 816.41,123.53 816.90,123.69 817.39,123.85 817.89,124.01 818.38,124.17 818.87,124.32 819.36,124.48 819.86,124.63 820.35,124.79 820.85,124.94 821.34,125.09 821.84,125.24M831.64,127.88 832.15,128.00 832.67,128.12 833.18,128.24 833.70,128.35 834.22,128.46 834.73,128.57 835.25,128.68 835.77,128.79 836.29,128.89 836.82,128.99 837.34,129.09 837.86,129.19M848.13,130.70 848.67,130.77 849.20,130.83 849.74,130.90 850.27,130.96 850.80,131.03 851.34,131.09 851.87,131.16 852.40,131.23 852.94,131.29 853.47,131.36 854.00,131.43 854.53,131.50M864.73,133.23 865.25,133.35 865.76,133.47 866.27,133.59 866.78,133.72 867.29,133.85 867.79,133.99 868.30,134.13 868.80,134.28 869.30,134.42 869.79,134.58 870.28,134.73 870.77,134.90M879.57,138.87 879.98,139.12 880.38,139.37 880.79,139.63 881.18,139.88 881.58,140.15 881.97,140.41 882.35,140.67 882.74,140.94 883.13,141.20 883.52,141.47 883.91,141.73 884.30,141.99M893.34,145.50 893.88,145.54 894.42,145.57 894.96,145.58 895.50,145.58 896.04,145.55 896.58,145.52 897.12,145.46 897.65,145.39 898.18,145.31 898.70,145.21 899.22,145.11 899.74,144.99M909.24,141.88 909.72,141.70 910.20,141.53 910.68,141.35 911.16,141.18 911.65,141.02 912.14,140.85 912.63,140.69 913.12,140.53 913.61,140.37 914.11,140.22 914.61,140.07 915.11,139.93M925.29,139.56 925.78,139.73 926.25,139.92 926.70,140.13 927.14,140.35 927.56,140.59 927.97,140.84 928.36,141.10 928.73,141.38 929.09,141.66 929.43,141.96 929.75,142.26 930.06,142.57M933.33,149.48 933.38,149.88 933.41,150.28 933.43,150.69 933.45,151.09 933.45,151.50 933.44,151.90 933.42,152.30 933.39,152.71 933.35,153.11 933.30,153.51" fill="none" stroke="#F500FA" stroke-width="4.90" stroke-linecap="round" stroke-linejoin="round"/>
<path d="M493.1,552.7v-9.5M517.9,552.7v-9.5M542.7,552.7v-9.5M567.6,552.7v-9.5M592.4,552.7v-13.0M617.2,552.7v-9.5M642.0,552.7v-9.5M666.8,552.7v-9.5M691.6,552.7v-9.5M716.4,552.7v-13.0M741.2,552.7v-9.5M766.1,552.7v-9.5M790.9,552.7v-9.5M815.7,552.7v-9.5M840.5,552.7v-13.0M865.3,552.7v-9.5M890.1,552.7v-9.5M468.3,509.8h9.0M468.3,466.8h12.0M468.3,423.9h9.0M468.3,381.0h12.0M468.3,338.0h9.0M468.3,295.1h12.0M468.3,252.1h9.0M468.3,209.2h12.0" stroke="#000" stroke-width="2.8" stroke-linecap="round" fill="none"/>
<path d="M468.3,191.0V552.7H903.7" stroke="#000" stroke-width="3" fill="none"/>
<path d="M468.58,550.51 469.57,550.49 470.56,550.47 471.54,550.45 472.53,550.43 473.52,550.41 474.51,550.38 475.50,550.36 476.49,550.33 477.48,550.30 478.47,550.27 479.46,550.24 480.45,550.21 481.44,550.17 482.44,550.14 483.43,550.10 484.42,550.06 485.42,550.02 486.41,549.98 487.41,549.94 488.40,549.89 489.40,549.85 490.39,549.80 491.39,549.75 492.39,549.70 493.38,549.65 494.38,549.60 495.38,549.54 496.38,549.49 497.37,549.43 498.37,549.37 499.37,549.31 500.37,549.25 501.37,549.19 502.37,549.12 503.37,549.06 504.37,548.99 505.37,548.92 506.37,548.85 507.37,548.78 508.37,548.70 509.37,548.63 510.37,548.55 511.37,548.47 512.37,548.39 513.37,548.31 514.38,548.23 515.38,548.14 516.38,548.06 517.38,547.97 518.38,547.88 519.38,547.79 520.39,547.70 521.39,547.60 522.39,547.51 523.39,547.41 524.40,547.31 525.40,547.21 526.40,547.11 527.40,547.01 528.40,546.90 529.41,546.79 530.41,546.68 531.41,546.57 532.41,546.46 533.42,546.35 534.42,546.23 535.42,546.11 536.42,546.00 537.42,545.88 538.43,545.75 539.43,545.63 540.43,545.50 541.43,545.38 542.43,545.25 543.43,545.12 544.43,544.98 545.44,544.85 546.44,544.71 547.44,544.57 548.44,544.43 549.44,544.29 550.44,544.15 551.44,544.01 552.44,543.86 553.44,543.71 554.43,543.56 555.43,543.41 556.43,543.25 557.43,543.10 558.43,542.94 559.43,542.78 560.42,542.62 561.42,542.46 562.42,542.29 563.41,542.12 564.41,541.96 565.40,541.79 566.40,541.61 567.40,541.44 568.39,541.26 569.38,541.09 570.38,540.91 571.37,540.72 572.36,540.54 573.36,540.35 574.35,540.17 575.34,539.98 576.33,539.79 577.32,539.59 578.31,539.40 579.30,539.20 580.29,539.00 581.28,538.80 582.27,538.60 583.26,538.39 584.24,538.19 585.23,537.98 586.22,537.77 587.20,537.55 588.19,537.34 589.17,537.12 590.16,536.90 591.14,536.68 592.12,536.46 593.10,536.23 594.09,536.01 595.07,535.78 596.05,535.55 597.03,535.31 598.00,535.08 598.98,534.84 599.96,534.60 600.94,534.36 601.91,534.12 602.89,533.87 603.86,533.63 604.84,533.38 605.81,533.12 606.78,532.87 607.76,532.61 608.73,532.36 609.70,532.10 610.67,531.83 611.63,531.57 612.60,531.30 613.57,531.04 614.54,530.76 615.50,530.49 616.47,530.22 617.43,529.94 618.39,529.66 619.35,529.38 620.32,529.09 621.28,528.81 622.23,528.52 623.19,528.23 624.15,527.94 625.11,527.64 626.06,527.35 627.02,527.05 627.97,526.74 628.92,526.44 629.88,526.14 630.83,525.83 631.78,525.52 632.73,525.20 633.67,524.89 634.62,524.57 635.57,524.25 636.51,523.93 637.45,523.61 638.40,523.28 639.34,522.95 640.28,522.62 641.22,522.29 642.16,521.95 643.10,521.61 644.03,521.27 644.97,520.93 645.90,520.59 646.83,520.24 647.76,519.89 648.70,519.54 649.62,519.18 650.55,518.83 651.48,518.47 652.41,518.11 653.33,517.74 654.25,517.38 655.18,517.01 656.10,516.64 657.02,516.26 657.93,515.89 658.85,515.51 659.77,515.13 660.68,514.75 661.59,514.36 662.51,513.97 663.42,513.58 664.33,513.19 665.23,512.80 666.14,512.40 667.05,512.00 667.95,511.59 668.85,511.19 669.75,510.78 670.65,510.37 671.55,509.96 672.45,509.54 673.35,509.13 674.24,508.71 675.13,508.28 676.02,507.86 676.91,507.43 677.80,507.00 678.69,506.57 679.58,506.13 680.46,505.69 681.34,505.25 682.22,504.81 683.10,504.37 683.98,503.92 684.86,503.47 685.73,503.01 686.61,502.56 687.48,502.10 688.35,501.64 689.22,501.17 690.08,500.71 690.95,500.24 691.81,499.77 692.67,499.29 693.54,498.82 694.39,498.34 695.25,497.85 696.11,497.37 696.96,496.88 697.81,496.39 698.66,495.90 699.51,495.40 700.36,494.91 701.21,494.40 702.05,493.90 702.89,493.39 703.73,492.89 704.57,492.37 705.41,491.86 706.24,491.34 707.08,490.82 707.91,490.30 708.74,489.77 709.57,489.25 710.39,488.71 711.22,488.18 712.04,487.64 712.86,487.11 713.68,486.56 714.49,486.02 715.31,485.47 716.12,484.92 716.93,484.37 717.74,483.81 718.55,483.25 719.36,482.69 720.16,482.13 720.96,481.56 721.76,480.99 722.56,480.42 723.35,479.84 724.15,479.26 724.94,478.68 725.73,478.10 726.52,477.51 727.30,476.92 728.09,476.33 728.87,475.73 729.65,475.13 730.43,474.53 731.20,473.92 731.98,473.32 732.75,472.71 733.52,472.09 734.28,471.48 735.05,470.86 735.81,470.24 736.57,469.61 737.33,468.98 738.09,468.35 738.84,467.72 739.59,467.08 740.34,466.44 741.09,465.80 741.84,465.15 742.58,464.50 743.32,463.85 744.06,463.20 744.80,462.54 745.54,461.88 746.27,461.22 747.00,460.56 747.73,459.89 748.46,459.22 749.19,458.55 749.91,457.87 750.63,457.19 751.35,456.51 752.07,455.83 752.78,455.14 753.50,454.45 754.21,453.76 754.92,453.07 755.62,452.37 756.33,451.67 757.03,450.97 757.73,450.27 758.43,449.56 759.13,448.85 759.83,448.14 760.52,447.43 761.21,446.71 761.90,445.99 762.59,445.27 763.27,444.55 763.96,443.82 764.64,443.10 765.32,442.37 766.00,441.63 766.68,440.90 767.35,440.16 768.02,439.43 768.69,438.68 769.36,437.94 770.03,437.20 770.70,436.45 771.36,435.70 772.02,434.95 772.68,434.19 773.34,433.44 773.99,432.68 774.65,431.92 775.30,431.16 775.95,430.40 776.60,429.63 777.25,428.86 777.89,428.09 778.54,427.32 779.18,426.55 779.82,425.77 780.46,425.00 781.10,424.22 781.73,423.44 782.36,422.65 783.00,421.87 783.63,421.08 784.25,420.29 784.88,419.51 785.51,418.71 786.13,417.92 786.75,417.13 787.37,416.33 787.99,415.53 788.60,414.73 789.22,413.93 789.83,413.13 790.44,412.32 791.05,411.52 791.66,410.71 792.27,409.90 792.87,409.09 793.48,408.28 794.08,407.46 794.68,406.65 795.28,405.83 795.88,405.01 796.47,404.19 797.06,403.37 797.66,402.55 798.25,401.73 798.84,400.90 799.42,400.08 800.01,399.25 800.60,398.42 801.18,397.59 801.76,396.76 802.34,395.93 802.92,395.09 803.50,394.26 804.07,393.42 804.65,392.59 805.22,391.75 805.79,390.91 806.36,390.07 806.93,389.23 807.49,388.38 808.06,387.54 808.62,386.70 809.19,385.85 809.75,385.00 810.31,384.16 810.87,383.31 811.42,382.46 811.98,381.61 812.53,380.75 813.08,379.90 813.64,379.05 814.19,378.20 814.73,377.34 815.28,376.48 815.83,375.63 816.37,374.77 816.91,373.91 817.46,373.05 818.00,372.19 818.54,371.33 819.07,370.47 819.61,369.61 820.15,368.75 820.68,367.89 821.21,367.02 821.74,366.16 822.27,365.29 822.80,364.43 823.33,363.56 823.86,362.70 824.38,361.83 824.91,360.96 825.43,360.09 825.95,359.23 826.47,358.36 826.99,357.49 827.51,356.62 828.02,355.75 828.54,354.88 829.05,354.01 829.56,353.14 830.08,352.27 830.59,351.39 831.10,350.52 831.60,349.65 832.11,348.78 832.62,347.90 833.12,347.03 833.63,346.16 834.13,345.28 834.63,344.41 835.13,343.54 835.63,342.66 836.13,341.79 836.62,340.92 837.12,340.04 837.61,339.17 838.11,338.29 838.60,337.42 839.09,336.55 839.58,335.67 840.07,334.80 840.56,333.92 841.05,333.05 841.53,332.17 842.02,331.30 842.50,330.42 842.99,329.55 843.47,328.67 843.95,327.80 844.43,326.92 844.91,326.05 845.39,325.17 845.87,324.30 846.34,323.42 846.82,322.55 847.29,321.67 847.77,320.79 848.24,319.92 848.71,319.04 849.18,318.17 849.65,317.29 850.12,316.41 850.59,315.54 851.05,314.66 851.52,313.78 851.99,312.91 852.45,312.03 852.91,311.15 853.38,310.27 853.84,309.40 854.30,308.52 854.76,307.64 855.22,306.76 855.68,305.88 856.13,305.00 856.59,304.13 857.05,303.25 857.50,302.37 857.96,301.49 858.41,300.61 858.86,299.73 859.31,298.85 859.77,297.97 860.22,297.09 860.67,296.21 861.11,295.33 861.56,294.45 862.01,293.56 862.46,292.68 862.90,291.80 863.35,290.92 863.79,290.04 864.24,289.15 864.68,288.27 865.12,287.39 865.56,286.51 866.00,285.62 866.44,284.74 866.88,283.86 867.32,282.97 867.76,282.09 868.20,281.20 868.63,280.32 869.07,279.43 869.51,278.55 869.94,277.66 870.38,276.77 870.81,275.89 871.24,275.00 871.68,274.11 872.11,273.23 872.54,272.34 872.97,271.45 873.40,270.56 873.83,269.68 874.26,268.79 874.69,267.90 875.11,267.01 875.54,266.12 875.97,265.23 876.40,264.34 876.82,263.45 877.25,262.56 877.67,261.66 878.10,260.77 878.52,259.88 878.94,258.99 879.37,258.10 879.79,257.20 880.21,256.31 880.63,255.41 881.05,254.52 881.47,253.63 881.89,252.73 882.31,251.84 882.73,250.94 883.15,250.04 883.57,249.15 883.99,248.25 884.40,247.35 884.82,246.46 885.24,245.56 885.65,244.66 886.07,243.76 886.48,242.86 886.90,241.96 887.31,241.06 887.73,240.16 888.14,239.26 888.56,238.36 888.97,237.46 889.38,236.55 889.79,235.65 890.21,234.75 890.62,233.84 891.03,232.94 891.44,232.04 891.85,231.13 892.26,230.23 892.67,229.32 893.09,228.41 893.50,227.51 893.90,226.60 894.31,225.69 894.72,224.78" fill="none" stroke="#000" stroke-width="5.00" stroke-linejoin="round" stroke-linecap="round"/>
<text x="96.92" y="692.80" font-size="53.00">0</text>
<path transform="translate(96.92,584.92) scale(53.000)" d="M0.359,0V-0.688H0.300C0.290,-0.617 0.200,-0.545 0.101,-0.542V-0.486H0.274V0Z"/>
<text x="96.92" y="477.03" font-size="53.00">2</text>
<text x="96.92" y="369.15" font-size="53.00">3</text>
<text x="96.92" y="261.27" font-size="53.00">4</text>
<text x="96.92" y="153.38" font-size="53.00">5</text>
<text x="96.92" y="45.50" font-size="53.00">6</text>
<text x="125.46" y="736.60" font-size="53.00">0</text>
<path transform="translate(340.39,736.60) scale(53.000)" d="M0.359,0V-0.688H0.300C0.290,-0.617 0.200,-0.545 0.101,-0.542V-0.486H0.274V0Z"/><text x="369.87" y="736.60" font-size="53.00">0</text>
<text x="570.06" y="736.60" font-size="53.00">20</text>
<text x="799.73" y="736.60" font-size="53.00">30</text>
<text x="458.05" y="805.20" font-size="51.00" class="s">μ</text>
<text x="485.03" y="823.30" font-size="37.70">0</text>
<text x="510.05" y="805.20" font-size="53.50" class="i">H</text>
<text x="559.21" y="805.20" font-size="53.00">(T)</text>
<text transform="translate(46.10,412.42) rotate(-90)" font-size="50.50" class="s">ρ</text>
<text transform="translate(65.30,387.38) rotate(-90)" font-size="39.50">c</text>
<text transform="translate(46.10,357.10) rotate(-90)" font-size="53.00">/</text>
<text transform="translate(46.10,338.72) rotate(-90)" font-size="50.50" class="s">ρ</text>
<text transform="translate(65.20,313.42) rotate(-90)" font-size="39.00">0</text>
<path d="M221.5,517.4H296.8" stroke="#007AFF" stroke-width="4.6" stroke-linecap="round"/>
<path d="M221.5,563.4H296.8" stroke="#F6007E" stroke-width="4.6" stroke-linecap="round"/>
<path fill-rule="evenodd" d="M324.01,510.85L323.53,512.62L322.94,514.33L322.25,515.96L321.48,517.47L320.64,518.84L319.74,520.04L318.80,521.06L317.84,521.88L316.87,522.48L315.91,522.86L314.97,523.00L314.07,522.91L313.23,522.59L312.46,522.03L311.77,521.26L311.18,520.28L310.69,519.11L310.32,517.78L310.07,516.30L309.94,514.70L309.94,513.00L310.06,511.24L310.31,509.45L310.69,507.65L311.17,505.88L311.76,504.17L312.45,502.54L313.22,501.03L314.06,499.66L314.96,498.46L315.90,497.44L316.86,496.62L317.83,496.02L318.79,495.64L319.73,495.50L320.63,495.59L321.47,495.91L322.24,496.47L322.93,497.24L323.52,498.22L324.01,499.39L324.38,500.72L324.63,502.20L324.76,503.80L324.76,505.50L324.64,507.26L324.39,509.05ZM321.03,507.98L321.14,506.29L321.19,504.66L321.18,503.11L321.10,501.66L320.95,500.35L320.75,499.18L320.48,498.19L320.17,497.38L319.80,496.78L319.39,496.40L318.95,496.23L318.48,496.28L317.99,496.56L317.49,497.05L316.99,497.76L316.49,498.66L316.01,499.74L315.55,500.98L315.12,502.37L314.73,503.87L314.38,505.46L314.09,507.12L313.85,508.82L313.67,510.52L313.56,512.21L313.51,513.84L313.52,515.39L313.60,516.84L313.75,518.15L313.95,519.32L314.22,520.31L314.53,521.12L314.90,521.72L315.31,522.10L315.75,522.27L316.22,522.22L316.71,521.94L317.21,521.45L317.71,520.74L318.21,519.84L318.69,518.76L319.15,517.52L319.58,516.13L319.97,514.63L320.32,513.04L320.61,511.38L320.85,509.68Z"/><rect x="313.43" y="508.37" width="7.83" height="1.17"/>
<rect x="338.80" y="515.41" width="19.99" height="2.65"/><rect x="338.80" y="507.20" width="19.99" height="2.65"/>
<path transform="translate(370.71,522.60) scale(39.500)" d="M0.359,0V-0.688H0.300C0.290,-0.617 0.200,-0.545 0.101,-0.542V-0.486H0.274V0Z"/><text x="392.68" y="522.60" font-size="39.50">7°</text>
<path fill-rule="evenodd" d="M324.09,562.92L323.60,564.71L323.00,566.44L322.30,568.08L321.53,569.60L320.68,570.99L319.77,572.21L318.82,573.24L317.85,574.07L316.86,574.68L315.89,575.06L314.94,575.20L314.04,575.11L313.18,574.78L312.40,574.22L311.71,573.44L311.11,572.45L310.62,571.27L310.24,569.92L309.99,568.42L309.86,566.80L309.86,565.09L309.99,563.31L310.24,561.50L310.61,559.68L311.10,557.89L311.70,556.16L312.40,554.52L313.17,553.00L314.02,551.61L314.93,550.39L315.88,549.36L316.85,548.53L317.84,547.92L318.81,547.54L319.76,547.40L320.66,547.49L321.52,547.82L322.30,548.38L322.99,549.16L323.59,550.15L324.08,551.33L324.46,552.68L324.71,554.18L324.84,555.80L324.84,557.51L324.71,559.29L324.46,561.10ZM321.07,560.01L321.18,558.31L321.24,556.66L321.22,555.10L321.14,553.63L320.99,552.30L320.78,551.12L320.52,550.12L320.20,549.31L319.83,548.70L319.41,548.31L318.97,548.14L318.49,548.19L318.00,548.47L317.49,548.97L316.98,549.69L316.48,550.59L315.99,551.69L315.53,552.94L315.10,554.34L314.70,555.86L314.35,557.47L314.06,559.15L313.81,560.87L313.63,562.59L313.52,564.29L313.46,565.94L313.48,567.50L313.56,568.97L313.71,570.30L313.92,571.48L314.18,572.48L314.50,573.29L314.87,573.90L315.29,574.29L315.73,574.46L316.21,574.41L316.70,574.13L317.21,573.63L317.72,572.91L318.22,572.01L318.71,570.91L319.17,569.66L319.60,568.26L320.00,566.74L320.35,565.13L320.64,563.45L320.89,561.73Z"/><rect x="313.39" y="560.41" width="7.92" height="1.19"/>
<rect x="338.80" y="567.61" width="19.99" height="2.65"/><rect x="338.80" y="559.39" width="19.99" height="2.65"/>
<text x="370.26" y="574.80" font-size="39.50">0°</text>
<text x="582.49" y="157.30" font-size="40.40">PtCoO</text>
<text x="698.74" y="170.00" font-size="29.00">2</text>
<text x="561.91" y="213.20" font-size="40.00" class="i">T</text>
<path d="M596.4,199.9h19.4M596.4,207.5h19.4" stroke="#000" stroke-width="2.6"/>
<path d="M597.6,192.8c2.5,-3.6 5.5,-4.3 8.3,-2.6s5.8,1.8 8,-2.1" stroke="#000" stroke-width="2.3" fill="none"/>
<text x="627.76" y="213.30" font-size="39.50">0.35 K</text>
<text x="440.85" y="566.00" font-size="40.00">0</text>
<text x="418.61" y="480.13" font-size="40.00">50</text>
<path transform="translate(396.36,394.25) scale(40.000)" d="M0.359,0V-0.688H0.300C0.290,-0.617 0.200,-0.545 0.101,-0.542V-0.486H0.274V0Z"/><text x="418.61" y="394.25" font-size="40.00">00</text>
<path transform="translate(396.36,308.38) scale(40.000)" d="M0.359,0V-0.688H0.300C0.290,-0.617 0.200,-0.545 0.101,-0.542V-0.486H0.274V0Z"/><text x="418.61" y="308.38" font-size="40.00">50</text>
<text x="396.36" y="222.50" font-size="40.00">200</text>
<text x="458.18" y="592.00" font-size="40.00">0</text>
<path transform="translate(571.12,592.00) scale(40.000)" d="M0.359,0V-0.688H0.300C0.290,-0.617 0.200,-0.545 0.101,-0.542V-0.486H0.274V0Z"/><text x="593.37" y="592.00" font-size="40.00">0</text>
<text x="695.19" y="592.00" font-size="40.00">20</text>
<text x="819.25" y="592.00" font-size="40.00">30</text>
<text x="621.14" y="635.50" font-size="37.50" class="s">μ</text>
<text x="639.26" y="647.80" font-size="26.50">0</text>
<text x="659.08" y="635.50" font-size="39.80" class="i">H</text>
<text x="696.35" y="635.50" font-size="39.50">(T)</text>
<text transform="translate(363.90,421.05) rotate(-90)" font-size="37.50" class="s">ρ</text>
<text transform="translate(377.40,402.92) rotate(-90)" font-size="28.70">c</text>
<text transform="translate(364.20,377.50) rotate(-90)" font-size="39.50">/</text>
<text transform="translate(363.90,364.15) rotate(-90)" font-size="37.50" class="s">ρ</text>
<text transform="translate(377.40,344.62) rotate(-90)" font-size="28.60">0</text>
<path d="M493,318H549.4" stroke="#000" stroke-width="5" stroke-linecap="round"/>
<path fill-rule="evenodd" d="M576.81,317.08L576.31,318.89L575.71,320.64L575.01,322.30L574.22,323.84L573.36,325.24L572.44,326.47L571.49,327.51L570.50,328.35L569.51,328.97L568.53,329.35L567.57,329.50L566.65,329.40L565.79,329.07L565.00,328.51L564.30,327.72L563.70,326.72L563.20,325.53L562.82,324.16L562.56,322.65L562.43,321.01L562.43,319.28L562.56,317.48L562.81,315.65L563.19,313.82L563.69,312.01L564.29,310.26L564.99,308.60L565.78,307.06L566.64,305.66L567.56,304.43L568.51,303.39L569.50,302.55L570.49,301.93L571.47,301.55L572.43,301.40L573.35,301.50L574.21,301.83L575.00,302.39L575.70,303.18L576.30,304.18L576.80,305.37L577.18,306.74L577.44,308.25L577.57,309.89L577.57,311.62L577.44,313.42L577.19,315.25ZM573.76,314.15L573.87,312.43L573.93,310.77L573.91,309.18L573.83,307.70L573.68,306.36L573.47,305.17L573.20,304.15L572.88,303.33L572.50,302.72L572.09,302.32L571.63,302.15L571.15,302.21L570.65,302.49L570.14,302.99L569.63,303.71L569.12,304.63L568.63,305.74L568.16,307.01L567.72,308.42L567.32,309.95L566.97,311.58L566.67,313.28L566.43,315.01L566.24,316.75L566.13,318.47L566.07,320.13L566.09,321.72L566.17,323.20L566.32,324.54L566.53,325.73L566.80,326.75L567.12,327.57L567.50,328.18L567.91,328.58L568.37,328.75L568.85,328.69L569.35,328.41L569.86,327.91L570.37,327.19L570.88,326.27L571.37,325.16L571.84,323.89L572.28,322.48L572.68,320.95L573.03,319.32L573.33,317.62L573.57,315.89Z"/><rect x="566.00" y="314.55" width="8.00" height="1.20"/>
<rect x="591.30" y="322.31" width="19.99" height="2.65"/><rect x="591.30" y="314.10" width="19.99" height="2.65"/>
<path fill-rule="evenodd" d="M640.71,317.08L640.21,318.89L639.61,320.64L638.91,322.30L638.12,323.84L637.26,325.24L636.34,326.47L635.39,327.51L634.40,328.35L633.41,328.97L632.43,329.35L631.47,329.50L630.55,329.40L629.69,329.07L628.90,328.51L628.20,327.72L627.60,326.72L627.10,325.53L626.72,324.16L626.46,322.65L626.33,321.01L626.33,319.28L626.46,317.48L626.71,315.65L627.09,313.82L627.59,312.01L628.19,310.26L628.89,308.60L629.68,307.06L630.54,305.66L631.46,304.43L632.41,303.39L633.40,302.55L634.39,301.93L635.37,301.55L636.33,301.40L637.25,301.50L638.11,301.83L638.90,302.39L639.60,303.18L640.20,304.18L640.70,305.37L641.08,306.74L641.34,308.25L641.47,309.89L641.47,311.62L641.34,313.42L641.09,315.25ZM637.66,314.15L637.77,312.43L637.83,310.77L637.81,309.18L637.73,307.70L637.58,306.36L637.37,305.17L637.10,304.15L636.78,303.33L636.40,302.72L635.99,302.32L635.53,302.15L635.05,302.21L634.55,302.49L634.04,302.99L633.53,303.71L633.02,304.63L632.53,305.74L632.06,307.01L631.62,308.42L631.22,309.95L630.87,311.58L630.57,313.28L630.33,315.01L630.14,316.75L630.03,318.47L629.97,320.13L629.99,321.72L630.07,323.20L630.22,324.54L630.43,325.73L630.70,326.75L631.02,327.57L631.40,328.18L631.81,328.58L632.27,328.75L632.75,328.69L633.25,328.41L633.76,327.91L634.27,327.19L634.78,326.27L635.27,325.16L635.74,323.89L636.18,322.48L636.58,320.95L636.93,319.32L637.23,317.62L637.47,315.89Z"/><rect x="629.90" y="314.55" width="8.00" height="1.20"/>
<text x="644.54" y="341.90" font-size="27.50" class="i">n</text>
<rect x="664.70" y="336.89" width="13.92" height="1.84"/><rect x="664.70" y="331.17" width="13.92" height="1.84"/>
<path transform="translate(680.92,341.90) scale(27.500)" d="M0.359,0V-0.688H0.300C0.290,-0.617 0.200,-0.545 0.101,-0.542V-0.486H0.274V0Z"/>
<rect x="709.80" y="322.31" width="19.99" height="2.65"/><rect x="709.80" y="314.10" width="19.99" height="2.65"/>
<text x="740.51" y="329.50" font-size="39.50">22.8°</text>
</svg></body></html>
